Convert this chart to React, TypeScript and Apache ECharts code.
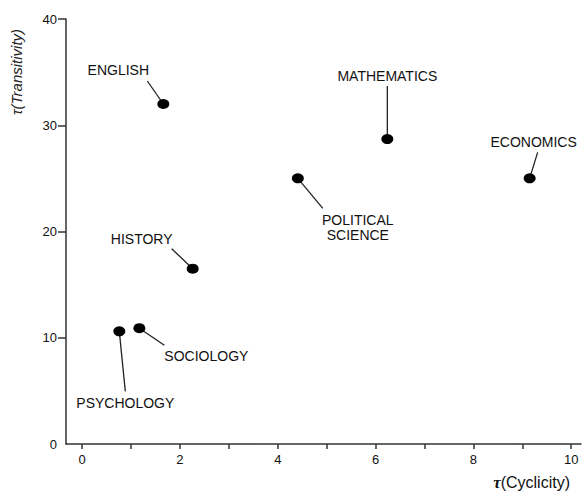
import React, { useEffect, useRef } from "react";
import * as echarts from "echarts";

const categories = [
  "ENGLISH",
  "MATHEMATICS",
  "ECONOMICS",
  "POLITICAL\nSCIENCE",
  "HISTORY",
  "SOCIOLOGY",
  "PSYCHOLOGY",
];
const cyclicity = [1.66, 6.24, 9.15, 4.41, 2.26, 1.17, 0.76];
const transitivity = [32.0, 28.7, 25.0, 25.0, 16.5, 10.9, 10.6];

const xTickValues = [0, 1, 2, 3, 4, 5, 6, 7, 8, 9, 10];
const xLabelValues = [0, 2, 4, 6, 8, 10];
const yTickValues = [10, 20, 30, 40];
const yLabelValues = [0, 10, 20, 30, 40];

// pixel offsets (from the dot) for the label centre and the leader-line end
const labelLayout: Record<string, { lx: number; ly: number; ex: number; ey: number }> = {
  ENGLISH: { lx: -45, ly: -34, ex: -16, ey: -23 },
  MATHEMATICS: { lx: 0, ly: -63, ex: 0, ey: -53 },
  ECONOMICS: { lx: 4, ly: -36, ex: 8, ey: -26 },
  "POLITICAL\nSCIENCE": { lx: 60, ly: 49, ex: 25, ey: 30 },
  HISTORY: { lx: -51, ly: -30, ex: -21, ey: -20 },
  SOCIOLOGY: { lx: 67, ly: 28, ex: 25, ey: 17 },
  PSYCHOLOGY: { lx: 6, ly: 72, ex: 6, ey: 60 },
};

const FONT = '"Liberation Sans", Arial, Helvetica, sans-serif';
const INK = "#111";

export default function App() {
  const ref = useRef<HTMLDivElement>(null);

  useEffect(() => {
    if (!ref.current) return;
    const chart = echarts.init(ref.current, undefined, { renderer: "svg" });
    const points = categories.map((c, i) => [cyclicity[i], transitivity[i], i]);

    chart.setOption({
      animation: false,
      backgroundColor: "#ffffff",
      textStyle: { fontFamily: FONT },
      grid: { left: 66, right: 1, top: 19, bottom: 50, containLabel: false },
      xAxis: {
        type: "value",
        min: -0.33,
        max: 10.2,
        splitLine: { show: false },
        axisLine: { show: true, onZero: false, lineStyle: { color: "#333", width: 1.5 } },
        axisTick: {
          show: true,
          customValues: xTickValues,
          length: 5,
          lineStyle: { color: "#333", width: 1.5 },
        },
        axisLabel: {
          customValues: xLabelValues,
          margin: 9,
          fontSize: 13,
          color: INK,
          fontFamily: FONT,
        },
      },
      yAxis: {
        type: "value",
        min: 0,
        max: 40,
        interval: 10,
        splitLine: { show: false },
        axisLine: { show: true, onZero: false, lineStyle: { color: "#333", width: 1.5 } },
        axisTick: {
          show: true,
          customValues: yTickValues,
          length: 8,
          lineStyle: { color: "#333", width: 1.5 },
        },
        axisLabel: {
          customValues: yLabelValues,
          margin: 9,
          fontSize: 13,
          color: INK,
          fontFamily: FONT,
          verticalAlign: "middle",
          padding: [0, 0, 9, 0],
        },
      },
      graphic: [
        {
          type: "text",
          x: 16,
          y: 72,
          rotation: Math.PI / 2,
          style: {
            text: "τ(Transitivity)",
            fill: "#222",
            font: `italic 15px ${FONT}`,
            align: "center",
            verticalAlign: "middle",
          },
        },
        {
          type: "text",
          x: 570,
          y: 482,
          style: {
            text: "{t|τ}{n|(Cyclicity)}",
            align: "right",
            verticalAlign: "middle",
            rich: {
              t: { fontSize: 17, fontWeight: "bold", fontStyle: "italic", fill: INK, fontFamily: "serif" },
              n: { fontSize: 16, fill: INK, fontFamily: FONT },
            },
          },
        },
      ],
      series: [
        {
          type: "custom",
          z: 1,
          clip: false,
          data: points,
          encode: { x: 0, y: 1 },
          renderItem: (params: any, api: any) => {
            const idx = api.value(2);
            const name = categories[idx];
            const p = api.coord([api.value(0), api.value(1)]);
            const l = labelLayout[name];
            return {
              type: "group",
              children: [
                {
                  type: "line",
                  shape: { x1: p[0], y1: p[1], x2: p[0] + l.ex, y2: p[1] + l.ey },
                  style: { stroke: "#222", lineWidth: 1.3 },
                },
                {
                  type: "text",
                  x: p[0] + l.lx,
                  y: p[1] + l.ly,
                  style: {
                    text: name,
                    fill: INK,
                    fontSize: 14,
                    fontFamily: FONT,
                    align: "center",
                    verticalAlign: "middle",
                    lineHeight: 15,
                  },
                },
              ],
            };
          },
        },
        {
          type: "scatter",
          z: 2,
          data: points,
          encode: { x: 0, y: 1 },
          symbol: "circle",
          symbolSize: [12, 10],
          itemStyle: { color: "#000", opacity: 1 },
          label: { show: false },
        },
      ],
    });

    return () => chart.dispose();
  }, []);

  return (
    <div
      ref={ref}
      style={{ position: "fixed", left: 0, top: 0, width: 582, height: 494 }}
    />
  );
}
